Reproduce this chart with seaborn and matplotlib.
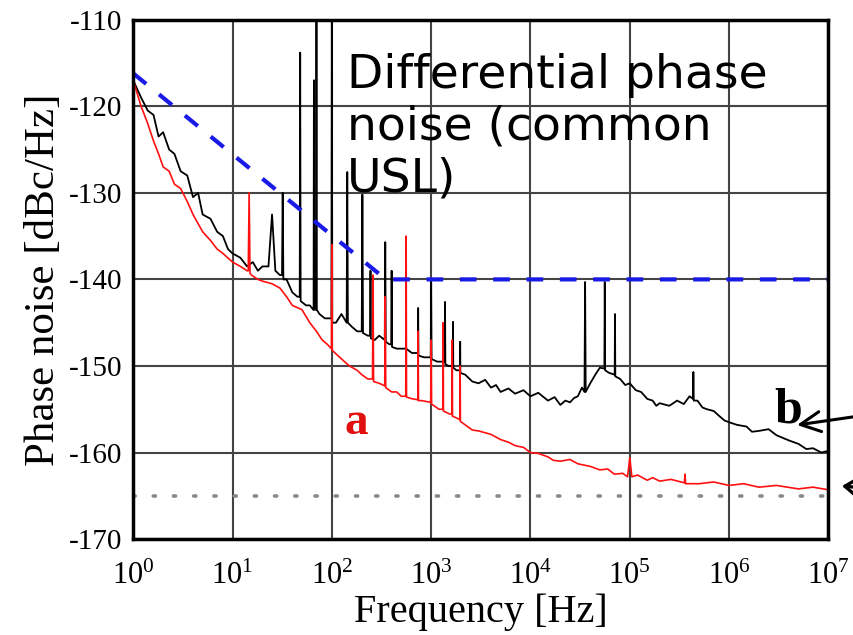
import matplotlib
matplotlib.use("Agg")
import matplotlib.pyplot as plt
import seaborn as sns
import numpy as np
import pandas as pd
from matplotlib.ticker import MultipleLocator, LogLocator

# curve b (black): frequency [Hz] and phase noise [dBc/Hz], spikes as narrow triples
freq_b = [1, 1.2, 1.4, 1.6, 1.8, 2, 2.3, 2.6, 3, 3.5, 4, 4.5, 5, 6, 7, 8, 9, 10,
          12, 14, 16, 18, 20, 23, 25, 27, 30, 31.5, 32, 32.5, 35, 40, 45,
          47.5, 48, 48.5, 55, 60, 65, 65.5, 66, 66.5, 69.5, 70, 70.5, 75, 85,
          99, 100, 101, 110, 125, 141, 143, 145, 160, 180, 200, 203, 206, 230,
          243, 245, 247, 270, 300, 341, 345, 349, 380, 396, 400, 404, 450,
          560, 640, 735, 740, 745, 850, 990, 1000, 1010, 1150, 1370, 1380,
          1390, 1500, 1650, 1660, 1670, 1800, 1950, 1960, 1970, 2200, 2600,
          3000, 3500, 4000, 4500, 5000, 6000, 7000, 8500, 10000, 12000, 15000,
          17500, 20000, 22500, 25000, 27500, 30000, 33000, 35000, 35500,
          36000, 40000, 45000, 50000, 55500, 56000, 56500, 62000, 70500, 71000,
          71500, 80000, 90000, 100000, 115000, 130000, 150000, 170000, 185000,
          200000, 250000, 300000, 350000, 400000, 433000, 437000, 441000,
          480000, 540000, 600000, 700000, 800000, 900000, 1e6, 1.2e6, 1.5e6,
          1.7e6, 2e6, 2.5e6, 3e6, 4e6, 5e6, 6e6, 7e6, 8.5e6, 1e7]
noise_b = [-117, -119, -120.5, -121, -123.5, -123, -125, -125.5, -127.5, -128,
           -130.5, -130, -132.5, -133, -134.5, -135, -136.5, -137,
           -137.5, -138.5, -138, -139, -138.5, -138.5, -132.5, -139, -139.5,
           -139.5, -130, -140, -140, -141.5, -142,
           -142, -113.8, -142.5, -143, -143, -143.5, -143.5, -117, -143.5,
           -143.5, -109, -143.5, -144, -144.5,
           -144.5, -109, -145, -145, -144, -145, -127.6, -145, -145.5, -146,
           -146, -130.2, -146.2, -146.5,
           -146.5, -139, -146.8, -147, -146.5, -147, -135.7, -147.2, -147.5,
           -147.5, -139, -147.8, -148,
           -148, -148.5, -148.5, -143.3, -148.8, -149, -149, -140.3, -149.2,
           -149.5, -149.5, -142.6,
           -149.8, -150, -150, -144.9, -150.2, -150.5, -150.5, -147.2, -150.8,
           -151, -151.8,
           -152, -151.6, -152.5, -152.2, -153, -152.6, -153.2, -152.8, -153.5,
           -153.1, -154,
           -153.6, -154.5, -154, -154.2, -153.7, -153.5, -152.5, -153, -140.3,
           -153, -152, -151, -150.2, -150.3, -140.3, -150.5, -150.8, -151,
           -144, -151.2, -151.5, -152.2, -152, -152.8, -153, -153.8, -154,
           -154.6,
           -154.3, -154.6, -154, -154.4, -153.5, -153.8, -150.7, -154,
           -154, -154.8, -155, -155.2, -155.8, -156.3, -156.5, -156.8, -157,
           -157.6, -157.5, -157.3, -158, -158.6, -159, -159.6, -159.5, -160,
           -159.8]

# curve a (red)
freq_a = [1, 1.2, 1.4, 1.6, 1.8, 2, 2.3, 2.6, 3, 3.5, 4, 5, 6, 7, 8, 10, 12,
          14, 14.4, 14.7, 15, 15.5, 18, 20, 25, 30, 35, 40, 50, 60, 70, 80,
          90, 99, 100, 101, 120, 150, 180, 200, 230, 257, 260, 263, 300, 341,
          345, 349, 400, 450, 500, 555, 560, 565, 650, 735, 740, 745, 800, 990,
          1000, 1010, 1200, 1310, 1320, 1330, 1500, 1620, 1630, 1640, 1800,
          1950, 1960, 1970, 2200, 2600, 3000, 4000, 5000, 6000, 7000, 8500,
          10000, 12000, 15000, 17000, 20000, 25000, 30000, 40000, 50000, 60000,
          70000, 85000, 95000, 100000, 105000, 120000, 150000, 170000, 200000,
          260000, 355000, 360000, 365000, 500000, 700000, 1e6, 1.4e6, 2e6,
          3e6, 5e6, 7e6, 1e7]
noise_a = [-117, -120, -122, -124, -125.5, -127, -127.5, -129, -129.5, -131,
           -132.5, -134.5, -135.5, -136.5, -137, -138, -138.5,
           -139, -139, -130, -139.3, -139.5, -140, -140.2, -140.5, -141, -142,
           -143, -143.5, -145, -146, -147,
           -147.5, -148, -136, -148.2, -149, -150, -150.5, -151, -151.5,
           -151.5, -139.5, -151.8, -152, -152.3,
           -142, -152.5, -153, -153, -153.5, -153.5, -135, -153.6, -153.8,
           -153.9, -146, -154, -154, -154.2,
           -147, -154.4, -155, -155, -145, -155.2, -155.5, -155.6, -147,
           -155.8, -156,
           -156.2, -150, -156.4, -156.8, -157.4, -157.5, -157.9, -158.5,
           -158.8, -159.2, -159.4,
           -160, -160.1, -160.5, -160.9, -161, -160.8, -161.3, -161.6, -162,
           -161.9,
           -162.5, -162.4, -162.8, -160.6, -162.8, -162.6, -163.2, -162.9,
           -163.3,
           -163.1, -163.5, -162.5, -163.6, -163.6, -163.4, -163.8, -163.6, -164,
           -163.8, -164.2, -164, -164.3]

# limit lines
freq_limit = [1, 350, 1e7]
noise_limit = [-116.2, -140, -140]
freq_floor = [1, 1e7]
noise_floor = [-165, -165]

sns.set_style("white")
plt.rcParams["font.family"] = ["Liberation Serif", "DejaVu Serif"]
plt.rcParams["mathtext.fontset"] = "stix"
plt.rcParams["axes.unicode_minus"] = False
plt.rcParams["text.color"] = "black"
plt.rcParams["axes.labelcolor"] = "black"
plt.rcParams["xtick.color"] = "black"
plt.rcParams["ytick.color"] = "black"

figure = plt.figure(figsize=(8.54, 6.35), dpi=100)
axis = figure.add_axes([0.156, 0.151, 0.814, 0.818])

df_b = pd.DataFrame({"f": freq_b, "L": noise_b})
df_a = pd.DataFrame({"f": freq_a, "L": noise_a})

sns.lineplot(data=df_b, x="f", y="L", sort=False, estimator=None,
             color="black", linewidth=1.3, ax=axis)
sns.lineplot(data=df_a, x="f", y="L", sort=False, estimator=None,
             color="#ff1010", linewidth=1.2, ax=axis)
sns.lineplot(x=freq_limit, y=noise_limit, sort=False, estimator=None,
             color="#1a1ae6", linewidth=3, linestyle=(0, (4, 4)), ax=axis)
sns.lineplot(x=freq_floor, y=noise_floor, sort=False, estimator=None,
             color="#888888", linewidth=2.6, linestyle=(0, (0.6, 5.0)),
             dash_capstyle="round", ax=axis)

axis.set_xscale("log")
axis.set_xlim(1, 1e7)
axis.set_ylim(-170, -110)
axis.yaxis.set_major_locator(MultipleLocator(10))
axis.yaxis.set_minor_locator(MultipleLocator(5))
axis.xaxis.set_major_locator(LogLocator(base=10, numticks=10))
axis.xaxis.set_minor_locator(LogLocator(base=10, subs=np.arange(2, 10), numticks=10))

axis.grid(True, which="major", color="#444444", linewidth=1.5)
for spine in axis.spines.values():
    spine.set_linewidth(2.5)
    spine.set_color("black")

axis.tick_params(axis="both", which="major", direction="in", length=6, width=2,
                 labelsize=21, top=False, right=False, pad=8)
axis.tick_params(axis="both", which="minor", direction="in", length=4, width=1.5,
                 top=False, right=False)
axis.tick_params(axis="x", which="major", labelsize=22, pad=16)

axis.set_xlabel("Frequency [Hz]", fontsize=29, labelpad=2)
axis.set_ylabel("Phase noise [dBc/Hz]", fontsize=31, labelpad=4)

axis.text(143, -113.8, "Differential phase\nnoise (common\nUSL)",
          family="DejaVu Sans", fontsize=34, va="top", ha="left",
          linespacing=1.2, color="black")
axis.text(177, -156.6, "a", color="#e01010", fontsize=34, fontweight="bold",
          ha="center", va="center")
axis.text(3.9e6, -155.2, "b", color="black", fontsize=36, fontweight="bold",
          ha="center", va="center")

# arrows coming in from outside the right edge
axis.annotate("", xy=(797, 210), xycoords="figure pixels",
              xytext=(880, 222), textcoords="figure pixels",
              arrowprops=dict(arrowstyle="->", color="black", lw=2.2,
                              mutation_scale=36, shrinkA=0, shrinkB=0),
              annotation_clip=False)
axis.annotate("", xy=(842, 149), xycoords="figure pixels",
              xytext=(875, 146), textcoords="figure pixels",
              arrowprops=dict(arrowstyle="->, head_length=0.45, head_width=0.32",
                              color="black", lw=2.4,
                              mutation_scale=36, shrinkA=0, shrinkB=0),
              annotation_clip=False)

figure.savefig("out.png", dpi=100)
